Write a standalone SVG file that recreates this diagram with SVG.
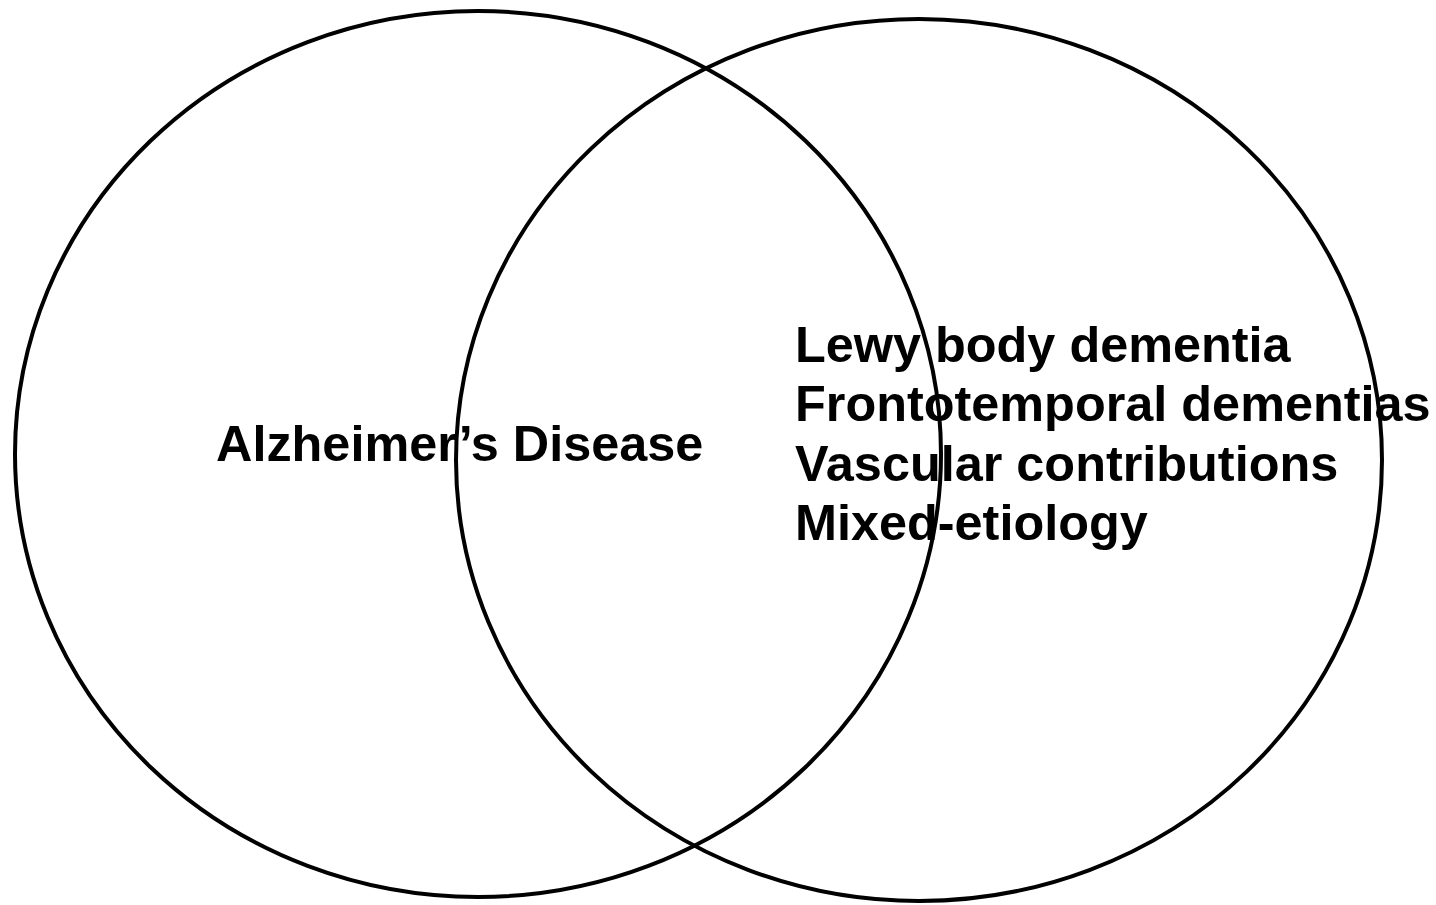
<svg xmlns="http://www.w3.org/2000/svg" width="1436" height="905" viewBox="0 0 1436 905">
<style>
.c{fill:none;stroke:#000;stroke-width:4}
.t{font-family:"Liberation Sans",Arial,sans-serif;font-weight:bold;font-size:50.4px;fill:#000}
</style>
<rect width="1436" height="905" fill="#fff"/>
<g id="left-set">
<ellipse class="c" cx="478" cy="454" rx="463" ry="443"/>
<text class="t" x="216" y="461">Alzheimer’s Disease</text>
</g>
<g id="right-set">
<ellipse class="c" cx="919" cy="460" rx="463" ry="441"/>
<text class="t" x="795" y="362">Lewy body dementia</text>
<text class="t" x="795" y="421">Frontotemporal dementias</text>
<text class="t" x="795" y="481">Vascular contributions</text>
<text class="t" x="795" y="540">Mixed-etiology</text>
</g>
<g id="connectors"/>
</svg>
